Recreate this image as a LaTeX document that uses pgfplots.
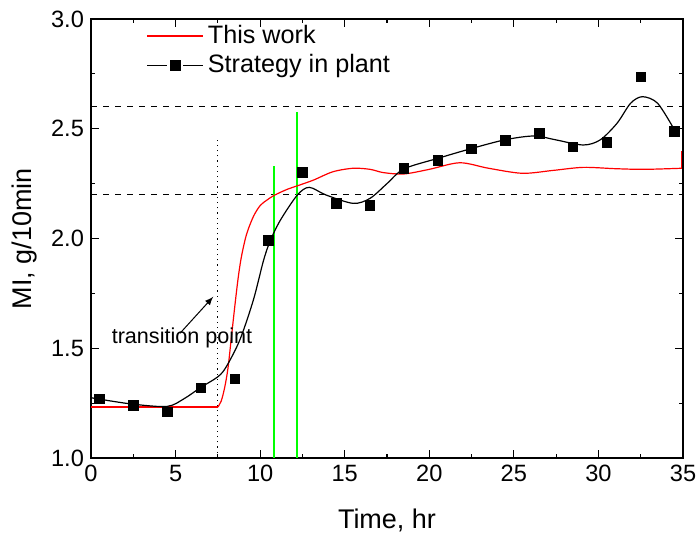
\documentclass[border=0pt]{standalone}
\usepackage{fontspec}
\setmainfont{Liberation Sans}
\usepackage{pgfplots}
\pgfplotsset{compat=1.18}
\begin{document}
\begin{tikzpicture}
\begin{axis}[
  name=ax,
  scale only axis,
  width=296pt, height=219.5pt,
  xmin=0, xmax=35, ymin=1.0, ymax=3.0,
  xtick={0,5,...,35}, ytick={1.0,1.5,2.0,2.5,3.0},
  minor x tick num=1, minor y tick num=1,
  tick align=inside,
  major tick length=4pt, minor tick length=2pt,
  axis line style={line width=0.8pt},
  every tick/.style={line width=0.6pt, black},
  tick label style={font=\fontsize{11.8}{14}\selectfont},
  /pgf/number format/assume math mode=true,
  yticklabel style={/pgf/number format/fixed, /pgf/number format/fixed zerofill, /pgf/number format/precision=1},
  xlabel={Time, hr}, ylabel={MI, g/10min},
  label style={font=\fontsize{13.5}{16}\selectfont},
  xlabel style={yshift=-6.5pt},
  legend style={draw=none, fill=none, at={(0.09,1.0)}, anchor=north west,
    font=\fontsize{12.6}{15}\selectfont, row sep=0pt, inner sep=1pt},
  legend cell align=left,
  legend image code/.code={},
]
% horizontal dashed limits
\addplot[black, dashed, line width=0.5pt, forget plot] coordinates {(0,2.6) (35,2.6)};
\addplot[black, dashed, line width=0.5pt, forget plot] coordinates {(0,2.2) (35,2.2)};
% vertical lines
\addplot[black, dotted, line width=0.6pt, forget plot] coordinates {(7.5,1.0) (7.5,2.46)};
\addplot[green, line width=0.7pt, forget plot] coordinates {(10.82,1.0) (10.82,2.33)};
\addplot[green, line width=0.7pt, forget plot] coordinates {(12.18,1.0) (12.18,2.576)};
% red model
\addplot[red, line width=0.6pt, forget plot] coordinates {(0,1.232) (7.5,1.232)};
\addplot[red, line width=0.6pt, smooth, tension=0.5, forget plot] coordinates {
(7.5,1.232) (7.7,1.26) (7.9,1.32) (8.1,1.41) (8.3,1.55) (8.5,1.69) (8.7,1.82) (8.9,1.92)
(9.2,2.02) (9.6,2.10) (10.0,2.15) (10.4,2.175) (10.84,2.197) (11.6,2.224) (12.2,2.24)
(13.15,2.266) (14.3,2.304) (15.5,2.32) (16.5,2.315) (17.3,2.30) (18.5,2.294) (20.0,2.315)
(21.8,2.345) (23.5,2.32) (25.5,2.297) (27.3,2.31) (29.1,2.324) (31.0,2.318) (32.7,2.315) (34.93,2.32)};
\addplot[red, line width=0.6pt, forget plot] coordinates {(34.93,2.32) (34.93,2.40)};
% black plant curve
\addplot[black, line width=0.6pt, smooth, tension=0.5, forget plot] coordinates {
(0,1.275) (0.5,1.268) (2.5,1.245) (4.5,1.235) (5.5,1.27) (6.5,1.322) (7.5,1.37) (8,1.416)
(8.8,1.538) (9.6,1.72) (10.2,1.90) (10.6,1.99) (11.2,2.084) (12.2,2.198) (12.9,2.233)
(13.9,2.198) (15.5,2.16) (16.5,2.183) (17.5,2.25) (18.5,2.317) (20.5,2.365) (22.5,2.41)
(24.5,2.45) (26.2,2.467) (27.5,2.449) (29.1,2.426) (30.1,2.449) (31.1,2.525) (31.9,2.616)
(32.6,2.646) (33.5,2.616) (34.5,2.494)};
% plant markers
\addplot[only marks, mark=square*, mark size=2.4pt, black, forget plot] coordinates {
(0.5,1.27) (2.5,1.24) (4.5,1.21) (6.5,1.32) (8.5,1.36) (10.5,1.99) (12.5,2.30) (14.5,2.16)
(16.5,2.15) (18.5,2.32) (20.5,2.356) (22.5,2.408) (24.5,2.447) (26.5,2.479) (28.5,2.417)
(30.5,2.438) (32.5,2.736) (34.5,2.488)};
% legend entries
\addlegendimage{legend image code/.code={\draw[red, line width=0.6pt] (0pt,0pt) -- (28pt,0pt);}}
\addlegendentry{This work}
\addlegendimage{legend image code/.code={\draw[black, line width=0.6pt] (0pt,0pt) -- (10pt,0pt); \draw[black, line width=0.6pt] (18pt,0pt) -- (28pt,0pt); \fill[black] (11.5pt,-2.5pt) rectangle (16.5pt,2.5pt);}}
\addlegendentry{Strategy in plant}
% annotation
\draw[-latex, black, line width=0.5pt] (axis cs:5.26,1.568) -- (axis cs:7.23,1.735);
\node[font=\fontsize{10.8}{13}\selectfont, anchor=center] at (axis cs:5.38,1.545) {transition point};
\end{axis}
\pgfresetboundingbox
\path ([xshift=-45.5pt,yshift=-40pt]ax.south west) rectangle ([xshift=7.5pt,yshift=9.5pt]ax.north east);
\end{tikzpicture}
\end{document}
